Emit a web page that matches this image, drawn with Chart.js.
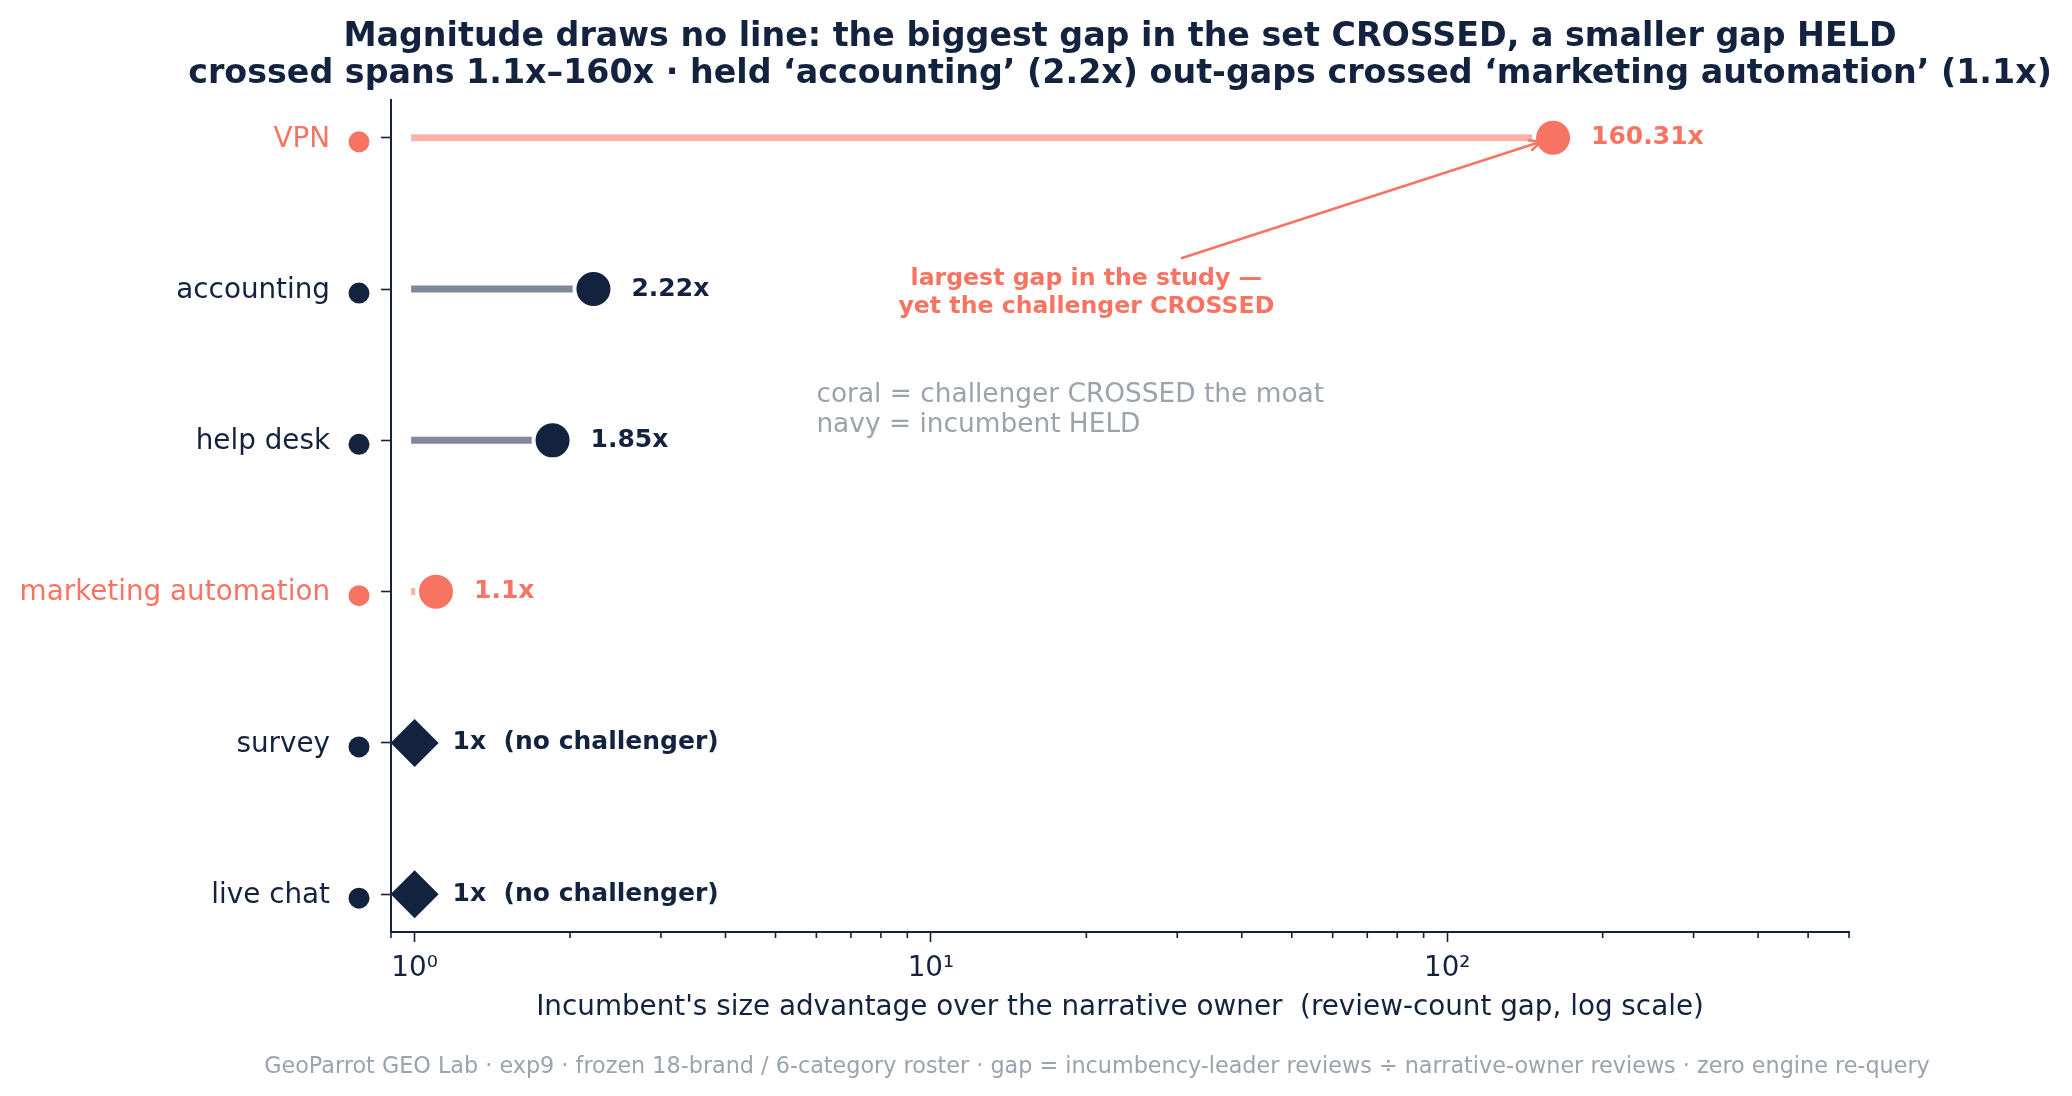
<!DOCTYPE html>
<html>
<head>
    <title>Magnitude draws no line</title>
    <script src="https://cdn.jsdelivr.net/npm/chart.js"></script>
    <style>
        body { margin: 0; background: #ffffff; }
    </style>
</head>
<body>
    <canvas id="myChart" width="2072" height="1096"></canvas>
    <script>
        // rows, top to bottom
        var categories = ['VPN', 'accounting', 'help desk', 'marketing automation', 'survey', 'live chat'];
        // incumbent review-count gap (x)
        var gaps = [160.31, 2.22, 1.85, 1.1, 1, 1];
        // crossed = challenger crossed the moat, held = incumbent held, none = no challenger
        var outcomes = ['crossed', 'held', 'held', 'crossed', 'none', 'none'];

        var decadeTicks = [1, 10, 100];
        var decadeLabels = ['10⁰', '10¹', '10²'];
        var minorTicks = [0.9, 2, 3, 4, 5, 6, 7, 8, 9, 20, 30, 40, 50, 60, 70, 80, 90, 200, 300, 400, 500, 600];

        var titleLines = [
            'Magnitude draws no line: the biggest gap in the set CROSSED, a smaller gap HELD',
            'crossed spans 1.1x\u2013160x \u00b7 held \u2018accounting\u2019 (2.2x) out-gaps crossed \u2018marketing automation\u2019 (1.1x)'
        ];
        var noteLines = ['coral = challenger CROSSED the moat', 'navy = incumbent HELD'];
        var calloutLines = ['largest gap in the study \u2014', 'yet the challenger CROSSED'];
        var footer = 'GeoParrot GEO Lab \u00b7 exp9 \u00b7 frozen 18-brand / 6-category roster \u00b7 gap = incumbency-leader reviews \u00f7 narrative-owner reviews \u00b7 zero engine re-query';

        var navy = '#13233f', coral = '#f87462', coralLight = '#fbb2a9', slate = '#7f8999', muted = '#9aa3ae';
        var FONT = '"DejaVu Sans"';

        function isCrossed(i) { return outcomes[i] === 'crossed'; }

        var datasets = [];
        categories.forEach(function(c, i) {
            if (gaps[i] <= 1) return;
            datasets.push({
                label: c,
                data: [{x: 1, y: i}, {x: gaps[i], y: i}],
                showLine: true,
                borderColor: isCrossed(i) ? coralLight : slate,
                borderWidth: 7,
                borderCapStyle: 'square',
                pointRadius: 0,
                order: 2
            });
        });
        datasets.push({
            label: 'gap',
            data: gaps.map(function(g, i) { return {x: g, y: i}; }),
            showLine: false,
            pointStyle: outcomes.map(function(o) { return o === 'none' ? 'rectRot' : 'circle'; }),
            pointRadius: outcomes.map(function(o) { return o === 'none' ? 24 : 19; }),
            pointBackgroundColor: outcomes.map(function(o) { return o === 'crossed' ? coral : navy; }),
            pointBorderColor: '#ffffff',
            pointBorderWidth: outcomes.map(function(o) { return o === 'none' ? 0 : 4; }),
            order: 1
        });

        var extras = {
            id: 'extras',
            afterDraw: function(chart) {
                var ctx = chart.ctx, xs = chart.scales.x, ys = chart.scales.y, area = chart.chartArea;
                ctx.save();

                // title, centred over the plot area
                ctx.fillStyle = navy;
                ctx.textAlign = 'center';
                ctx.textBaseline = 'middle';
                ctx.font = 'bold 33.3px ' + FONT;
                var cx = (area.left + area.right) / 2;
                ctx.fillText(titleLines[0], cx, 37);
                ctx.fillText(titleLines[1], cx, 74);

                // minor ticks on x
                ctx.strokeStyle = navy;
                ctx.lineWidth = 1.6;
                minorTicks.forEach(function(v) {
                    var px = xs.getPixelForValue(v);
                    ctx.beginPath();
                    ctx.moveTo(px, area.bottom);
                    ctx.lineTo(px, area.bottom + 6);
                    ctx.stroke();
                });

                // outcome dots next to the row labels
                categories.forEach(function(c, i) {
                    ctx.fillStyle = isCrossed(i) ? coral : navy;
                    ctx.beginPath();
                    ctx.arc(area.left - 32, ys.getPixelForValue(i) + 4, 10.5, 0, Math.PI * 2);
                    ctx.fill();
                });

                // value labels
                ctx.font = 'bold 25px ' + FONT;
                ctx.textAlign = 'left';
                gaps.forEach(function(g, i) {
                    ctx.fillStyle = isCrossed(i) ? coral : navy;
                    var txt = outcomes[i] === 'none' ? g + 'x  (no challenger)' : g + 'x';
                    ctx.fillText(txt, xs.getPixelForValue(g) + 38, ys.getPixelForValue(i));
                });

                // callout + arrow to the largest gap
                var tx = xs.getPixelForValue(20), ty = ys.getPixelForValue(1);
                var hx = xs.getPixelForValue(gaps[0]), hy = ys.getPixelForValue(0);
                ctx.fillStyle = coral;
                ctx.font = 'bold 23.6px ' + FONT;
                ctx.textAlign = 'center';
                ctx.fillText(calloutLines[0], tx, ty - 10);
                ctx.fillText(calloutLines[1], tx, ty + 17.5);

                var dx = hx - tx, dy = hy - ty;
                var len = Math.sqrt(dx * dx + dy * dy), ux = dx / len, uy = dy / len;
                var sx = tx + dx * (31 / -dy), sy = ty - 31;
                var ex = hx - ux * 13, ey = hy - uy * 13;
                ctx.strokeStyle = coral;
                ctx.lineWidth = 2.6;
                ctx.lineCap = 'round';
                ctx.beginPath();
                ctx.moveTo(sx, sy);
                ctx.lineTo(ex, ey);
                var ang = Math.atan2(uy, ux), hl = 12, spread = 0.45;
                ctx.moveTo(ex - hl * Math.cos(ang - spread), ey - hl * Math.sin(ang - spread));
                ctx.lineTo(ex, ey);
                ctx.lineTo(ex - hl * Math.cos(ang + spread), ey - hl * Math.sin(ang + spread));
                ctx.stroke();

                // colour note
                ctx.fillStyle = muted;
                ctx.font = '26.4px ' + FONT;
                ctx.textAlign = 'left';
                ctx.fillText(noteLines[0], xs.getPixelForValue(6), ys.getPixelForValue(1.704));
                ctx.fillText(noteLines[1], xs.getPixelForValue(6), ys.getPixelForValue(1.902));

                // footer
                ctx.font = '22.3px ' + FONT;
                ctx.textAlign = 'center';
                ctx.fillText(footer, 1097, 1067);
                ctx.restore();
            }
        };

        var ctx = document.getElementById('myChart').getContext('2d');
        var myChart = new Chart(ctx, {
            type: 'scatter',
            data: { datasets: datasets },
            options: {
                responsive: false,
                devicePixelRatio: 1,
                animation: false,
                events: [],
                layout: { padding: { top: 100, right: 223, bottom: 64, left: 0 } },
                plugins: {
                    legend: { display: false },
                    tooltip: { enabled: false },
                    title: { display: false }
                },
                scales: {
                    x: {
                        type: 'logarithmic',
                        min: 0.9,
                        max: 600,
                        afterFit: function(scale) { scale.height = 100; },
                        afterBuildTicks: function(scale) {
                            scale.ticks = decadeTicks.map(function(v) { return {value: v, major: true}; });
                        },
                        ticks: {
                            autoSkip: false,
                            maxRotation: 0,
                            padding: 10,
                            color: navy,
                            font: { family: 'DejaVu Sans', size: 27.8 },
                            callback: function(value, index) { return decadeLabels[index]; }
                        },
                        grid: {
                            drawOnChartArea: false,
                            tickLength: 10,
                            tickWidth: 1.6,
                            color: navy
                        },
                        border: { display: true, color: navy, width: 2 },
                        title: {
                            display: true,
                            text: "Incumbent's size advantage over the narrative owner  (review-count gap, log scale)",
                            color: navy,
                            font: { family: 'DejaVu Sans', size: 27.8 },
                            padding: { top: 0, bottom: 8 }
                        }
                    },
                    y: {
                        type: 'linear',
                        min: -0.25,
                        max: 5.25,
                        reverse: true,
                        afterFit: function(scale) { scale.width = 391; },
                        afterBuildTicks: function(scale) {
                            scale.ticks = categories.map(function(c, i) { return {value: i}; });
                        },
                        ticks: {
                            autoSkip: false,
                            padding: 51,
                            labelOffset: 1.5,
                            color: function(c) { return isCrossed(c.index) ? coral : navy; },
                            font: { family: 'DejaVu Sans', size: 27.8 },
                            callback: function(value) { return categories[value]; }
                        },
                        grid: {
                            drawOnChartArea: false,
                            tickLength: 10,
                            tickWidth: 1.6,
                            color: navy
                        },
                        border: { display: true, color: navy, width: 2 }
                    }
                }
            },
            plugins: [extras]
        });
    </script>
</body>
</html>
